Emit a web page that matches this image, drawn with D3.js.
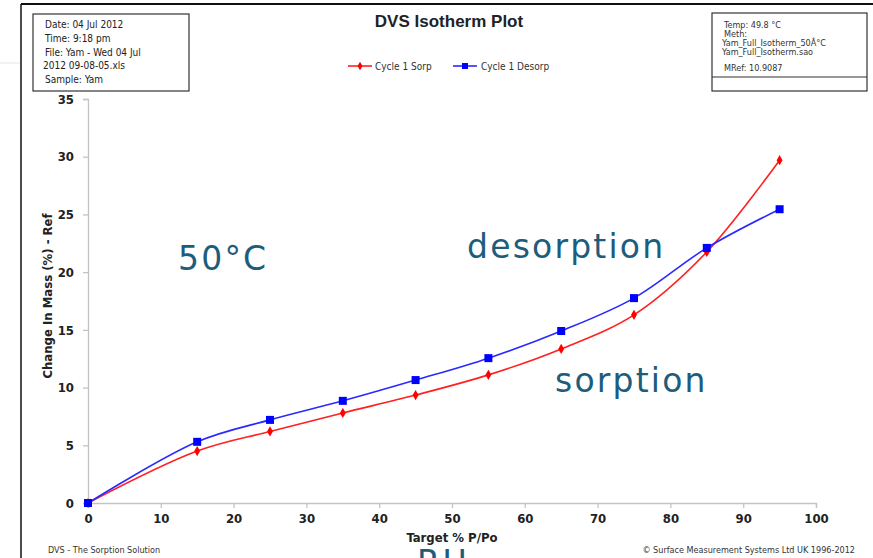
<!DOCTYPE html>
<html>
<head>
<meta charset="utf-8">
<script src="https://cdn.jsdelivr.net/npm/d3@7"></script>
<style>
  body { margin: 0; background: #fff; }
  svg { display: block; }
</style>
</head>
<body>
<div id="chart"></div>
<script>
// chart data
var rh = [0, 15, 25, 35, 45, 55, 65, 75, 85, 95];
var sorp = [0, 4.5, 6.2, 7.8, 9.35, 11.1, 13.35, 16.3, 21.75, 29.7];
var desorp = [0, 5.3, 7.2, 8.85, 10.65, 12.55, 14.9, 17.75, 22.1, 25.45];
var xTicks = [0, 10, 20, 30, 40, 50, 60, 70, 80, 90, 100];
var yTicks = [0, 5, 10, 15, 20, 25, 30, 35];
var leftInfo = ["Date: 04 Jul 2012", "Time: 9:18 pm", "File: Yam - Wed 04 Jul", "2012 09-08-05.xls", "Sample: Yam"];
var rightInfo = ["Temp: 49.8 °C", "Meth:", "Yam_Full_Isotherm_50Â°C", "Yam_Full_Isotherm.sao", "MRef: 10.9087"];

var svgWidth = 873;
var svgHeight = 558;

var svg = d3.select("#chart")
  .append("svg")
  .attr("width", svgWidth)
  .attr("height", svgHeight);

var narrow = "'Liberation Sans Narrow', 'DejaVu Sans Condensed', 'Liberation Sans', sans-serif";
var teal = "#1d5d7b";

// outer frame
svg.append("line").attr("x1", 21).attr("x2", 873).attr("y1", 4).attr("y2", 4)
  .attr("stroke", "#111").attr("stroke-width", 2);
svg.append("line").attr("x1", 21).attr("x2", 21).attr("y1", 4).attr("y2", 558)
  .attr("stroke", "#111").attr("stroke-width", 1.5);
svg.append("line").attr("x1", 0).attr("x2", 20).attr("y1", 63).attr("y2", 63)
  .attr("stroke", "#e4e4e4").attr("stroke-width", 1);

// info boxes
svg.append("rect").attr("x", 33).attr("y", 14).attr("width", 156).attr("height", 77)
  .attr("fill", "none").attr("stroke", "#333").attr("stroke-width", 1.2);
svg.selectAll(".leftinfo")
  .data(leftInfo)
  .enter()
  .append("text")
  .attr("x", (d, i) => i == 3 ? 43 : 45)
  .attr("y", (d, i) => 28 + i * 13.8)
  .style("font-family", narrow)
  .style("font-size", "10px")
  .style("fill", "#222")
  .text(d => d);

svg.append("rect").attr("x", 712).attr("y", 13).attr("width", 155).attr("height", 78)
  .attr("fill", "none").attr("stroke", "#333").attr("stroke-width", 1.2);
svg.append("line").attr("x1", 712).attr("x2", 867).attr("y1", 77).attr("y2", 77)
  .attr("stroke", "#333").attr("stroke-width", 1.2);
var rightY = [28, 37, 46, 55, 71];
svg.selectAll(".rightinfo")
  .data(rightInfo)
  .enter()
  .append("text")
  .attr("x", (d, i) => (i == 2 || i == 3) ? 722 : 724)
  .attr("y", (d, i) => rightY[i])
  .style("font-family", narrow)
  .style("font-size", "9px")
  .style("fill", "#333")
  .text(d => d);

// title
svg.append("text")
  .attr("x", 449).attr("y", 27)
  .attr("text-anchor", "middle")
  .style("font-family", "'Liberation Sans', Arial, sans-serif")
  .style("font-size", "17px")
  .style("font-weight", "bold")
  .style("fill", "#222")
  .text("DVS Isotherm Plot");

// scales
var x = d3.scaleLinear().domain([0, 100]).range([88, 816]);
var y = d3.scaleLinear().domain([0, 35]).range([503, 99]);

var xAxis = svg.append("g")
  .attr("transform", "translate(0,503)")
  .call(d3.axisBottom(x).tickValues(xTicks).tickSize(5).tickPadding(6));
var yAxis = svg.append("g")
  .attr("transform", "translate(88,0)")
  .call(d3.axisLeft(y).tickValues(yTicks).tickSize(5).tickPadding(9));

[xAxis, yAxis].forEach(function (g) {
  g.select(".domain").attr("stroke", "#c4c4c4").attr("stroke-width", 1.3);
  g.selectAll(".tick line").attr("stroke", "#c4c4c4").attr("stroke-width", 1.3);
  g.selectAll(".tick text")
    .style("font-family", narrow)
    .style("font-size", "13px")
    .style("font-weight", "bold")
    .style("fill", "#222");
});

// axis titles
svg.append("text")
  .attr("x", 452).attr("y", 542)
  .attr("text-anchor", "middle")
  .style("font-family", narrow)
  .style("font-size", "13px")
  .style("font-weight", "bold")
  .style("fill", "#222")
  .text("Target %  P/Po");
svg.append("text")
  .attr("transform", "translate(52,296) rotate(-90)")
  .attr("text-anchor", "middle")
  .style("font-family", narrow)
  .style("font-size", "13px")
  .style("font-weight", "bold")
  .style("fill", "#222")
  .text("Change In Mass (%) - Ref");

// footer
svg.append("text")
  .attr("x", 48).attr("y", 553)
  .style("font-family", narrow)
  .style("font-size", "9px")
  .style("fill", "#333")
  .text("DVS - The Sorption Solution");
svg.append("text")
  .attr("x", 855).attr("y", 553)
  .attr("text-anchor", "end")
  .style("font-family", narrow)
  .style("font-size", "9px")
  .style("fill", "#333")
  .text("© Surface Measurement Systems Ltd UK 1996-2012");

// series
var line = d3.line()
  .x(d => x(d[0]))
  .y(d => y(d[1]))
  .curve(d3.curveCatmullRom.alpha(0.5));

var sorpData = rh.map((v, i) => [v, sorp[i]]);
var desorpData = rh.map((v, i) => [v, desorp[i]]);

svg.append("path").datum(sorpData)
  .attr("d", line).attr("fill", "none").attr("stroke", "#ff2020").attr("stroke-width", 1.6);
svg.append("path").datum(desorpData)
  .attr("d", line).attr("fill", "none").attr("stroke", "#2a2aff").attr("stroke-width", 1.6);

var diamond = d3.symbol().type(d3.symbolDiamond).size(30);
svg.selectAll(".sorp")
  .data(sorpData)
  .enter()
  .append("path")
  .attr("d", diamond)
  .attr("transform", d => `translate(${x(d[0])},${y(d[1])})`)
  .attr("fill", "#ff0000");

svg.selectAll(".desorp")
  .data(desorpData)
  .enter()
  .append("rect")
  .attr("x", d => x(d[0]) - 4)
  .attr("y", d => y(d[1]) - 4)
  .attr("width", 8)
  .attr("height", 8)
  .attr("fill", "#0000ff");

// legend
var legend = svg.append("g");
legend.append("line").attr("x1", 348).attr("x2", 372).attr("y1", 66).attr("y2", 66)
  .attr("stroke", "#ff2020").attr("stroke-width", 1.6);
legend.append("path").attr("d", d3.symbol().type(d3.symbolDiamond).size(22))
  .attr("transform", "translate(360,66)").attr("fill", "#ff0000");
legend.append("text").attr("x", 375).attr("y", 69.5)
  .style("font-family", narrow).style("font-size", "10px").style("fill", "#333")
  .text("Cycle 1 Sorp");
legend.append("line").attr("x1", 453).attr("x2", 477).attr("y1", 66).attr("y2", 66)
  .attr("stroke", "#2a2aff").attr("stroke-width", 1.6);
legend.append("rect").attr("x", 462).attr("y", 63).attr("width", 6).attr("height", 6)
  .attr("fill", "#0000ff");
legend.append("text").attr("x", 481).attr("y", 69.5)
  .style("font-family", narrow).style("font-size", "10px").style("fill", "#333")
  .text("Cycle 1 Desorp");

// annotations
var notes = [
  ["50°C", 178, 270],
  ["desorption", 467, 258],
  ["sorption", 555, 392],
  ["RH", 417, 574]
];
svg.selectAll(".note")
  .data(notes)
  .enter()
  .append("text")
  .attr("x", d => d[1])
  .attr("y", d => d[2])
  .style("font-family", "'DejaVu Sans', Verdana, sans-serif")
  .style("font-size", "33px")
  .style("letter-spacing", "2.2px")
  .style("fill", teal)
  .text(d => d[0]);
</script>
</body>
</html>
